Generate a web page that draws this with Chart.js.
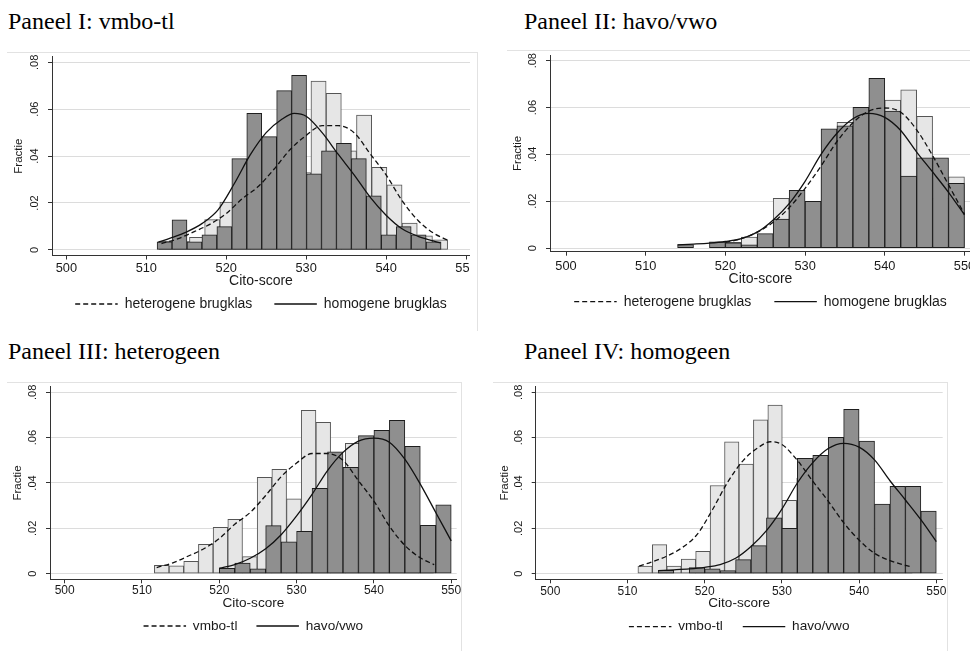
<!DOCTYPE html>
<html>
<head>
<meta charset="utf-8">
<script src="https://cdn.jsdelivr.net/npm/chart.js@4.4.1/dist/chart.umd.min.js"></script>
<style>
  html, body { margin: 0; padding: 0; background: #fff; }
  body { width: 970px; height: 651px; position: relative; overflow: hidden; }
  .title { position: absolute; font-family: "Liberation Serif", "Times New Roman", serif; font-size: 24px; line-height: 24px; color: #000; white-space: nowrap; }
  .panel { position: absolute; overflow: hidden; }
  .frame { position: absolute; border-top: 1px solid #e2e2e2; border-right: 1px solid #e2e2e2; }
  canvas { display: block; }
</style>
</head>
<body>
<div class="frame" style="left:7px; top:52px; width:470px; height:278px;"></div>
<div class="frame" style="left:507px; top:50px; width:470px; height:280px;"></div>
<div class="frame" style="left:7px; top:382px; width:454px; height:280px;"></div>
<div class="frame" style="left:493px; top:382px; width:454px; height:280px;"></div>

<div class="title" style="left:8px; top:9px;">Paneel I: vmbo-tl</div>
<div class="title" style="left:524px; top:9px;">Paneel II: havo/vwo</div>
<div class="title" style="left:8px; top:339px;">Paneel III: heterogeen</div>
<div class="title" style="left:524px; top:339px;">Paneel IV: homogeen</div>

<div class="panel" id="p1"></div>
<div class="panel" id="p2"></div>
<div class="panel" id="p3"></div>
<div class="panel" id="p4"></div>

<script>
const xTicks = [500, 510, 520, 530, 540, 550];
const yTicks = [0, 0.02, 0.04, 0.06, 0.08];
const yTickLabels = ["0", ".02", ".04", ".06", ".08"];

// histograms: first bin edge, bin width, fraction per bin
const vmboHetStart = 511.6;
const vmboHetWidth = 1.9;
const vmboHetFrac = [0.0037, 0.0035, 0.0054, 0.0129, 0.0204, 0.024, 0.0075, 0.0425, 0.046, 0.033,
  0.072, 0.0668, 0.0423, 0.0575, 0.0352, 0.0277, 0.0114, 0.006, 0.0043];

const vmboHomStart = 511.35;
const vmboHomWidth = 1.87;
const vmboHomFrac = [0.0034, 0.0128, 0.0034, 0.0064, 0.0099, 0.0389, 0.0582, 0.0483, 0.0679, 0.0744,
  0.0324, 0.0422, 0.0455, 0.0389, 0.023, 0.0064, 0.0099, 0.0064, 0.0034];

const havoHetStart = 520;
const havoHetWidth = 2;
const havoHetFrac = [0.0024, 0.0047, 0.0022, 0.0212, 0.014, 0.0187, 0.0376, 0.0537, 0.0469, 0.0609,
  0.0632, 0.0676, 0.0562, 0.0213, 0.0304];

const havoHomStart = 514;
const havoHomWidth = 2;
const havoHomFrac = [0.0015, 0, 0.0027, 0.0022, 0.0014, 0.0062, 0.0124, 0.0246, 0.02, 0.0509,
  0.0522, 0.0601, 0.0725, 0.0585, 0.0307, 0.0385, 0.0385, 0.0276];

// normal curves
const vmboHetCurveX = [511.9, 514, 516, 518, 520, 522, 524, 526, 528, 530, 532, 534, 536, 538, 540, 542, 544, 546, 547.8];
const vmboHetCurveY = [0.0027, 0.0048, 0.0078, 0.011, 0.0155, 0.0218, 0.027, 0.0345, 0.0428, 0.0488,
  0.053, 0.053, 0.05, 0.041, 0.032, 0.021, 0.0125, 0.007, 0.004];

const vmboHomCurveX = [511.5, 513, 515, 517, 519, 521, 523, 525, 527, 528.5, 530, 532, 534, 536, 538, 540, 542, 544, 546.8];
const vmboHomCurveY = [0.0033, 0.005, 0.0076, 0.0113, 0.0172, 0.0282, 0.0405, 0.05, 0.0558, 0.0582,
  0.057, 0.05, 0.0408, 0.032, 0.0225, 0.0148, 0.009, 0.0058, 0.003];

const havoHetCurveX = [520, 522, 524, 526, 528, 530, 532, 534, 536, 538, 540, 542, 544, 546, 548, 550];
const havoHetCurveY = [0.0024, 0.004, 0.0068, 0.011, 0.0172, 0.0255, 0.035, 0.0455, 0.0535, 0.0585,
  0.0598, 0.058, 0.0505, 0.0395, 0.027, 0.0145];

const havoHomCurveX = [514, 516, 518, 520, 522, 524, 526, 528, 530, 532, 534, 536, 538, 540, 542, 544, 546, 548, 550];
const havoHomCurveY = [0.0014, 0.0017, 0.0021, 0.0028, 0.004, 0.0068, 0.012, 0.019, 0.0285, 0.04,
  0.049, 0.0552, 0.0575, 0.0558, 0.0502, 0.041, 0.0325, 0.0238, 0.0142];

function histogram(start, width, fracs) {
  return fracs.map((f, i) => ({ x: start + width * (i + 0.5), y: f }));
}

function curve(xs, ys) {
  return xs.map((x, i) => ({ x: x, y: ys[i] }));
}

const vmboHet = histogram(vmboHetStart, vmboHetWidth, vmboHetFrac);
const vmboHom = histogram(vmboHomStart, vmboHomWidth, vmboHomFrac);
const havoHet = histogram(havoHetStart, havoHetWidth, havoHetFrac);
const havoHom = histogram(havoHomStart, havoHomWidth, havoHomFrac);

const vmboHetCurve = curve(vmboHetCurveX, vmboHetCurveY);
const vmboHomCurve = curve(vmboHomCurveX, vmboHomCurveY);
const havoHetCurve = curve(havoHetCurveX, havoHetCurveY);
const havoHomCurve = curve(havoHomCurveX, havoHomCurveY);

const FONT = '"Liberation Sans", Arial, sans-serif';
const INK = "#1a1a1a";

// legend sample is a zero-height box: its width keeps the dash pattern
// of the return stroke on top of the first one
const LEGEND_BOX = 42.5;

const panels = [
  {
    id: "p1", light: vmboHet, dark: vmboHom, dashed: vmboHetCurve, solid: vmboHomCurve,
    labels: ["heterogene brugklas", "homogene brugklas"],
    left: 0, top: 40, width: 500, clip: 470,
    area: { left: 52, top: 56.7, right: 470, bottom: 255.5 },
    xRange: [498.2, 550.5], yRange: [-0.0024, 0.0824],
    yTickX: 35, yTitleX: 19.3, xTickY: 268.5, xTitleY: 280.7, legendY: 304,
    tickFont: 12.8, textFont: 14, yFont: 11, legendPad: 22
  },
  {
    id: "p2", light: havoHet, dark: havoHom, dashed: havoHetCurve, solid: havoHomCurve,
    labels: ["heterogene brugklas", "homogene brugklas"],
    left: 498, top: 40, width: 492,
    area: { left: 550, top: 55, right: 971, bottom: 251.7 },
    xRange: [497.99, 550.82], yRange: [-0.00155, 0.08243],
    yTickX: 533, yTitleX: 518, xTickY: 266.7, xTitleY: 279.3, legendY: 301.7,
    tickFont: 12.8, textFont: 14, yFont: 11, legendPad: 23
  },
  {
    id: "p3", light: vmboHet, dark: havoHet, dashed: vmboHetCurve, solid: havoHetCurve,
    labels: ["vmbo-tl", "havo/vwo"],
    left: 0, top: 370, width: 480, clip: 461,
    area: { left: 50, top: 386.7, right: 456.7, bottom: 579.3 },
    xRange: [498.1, 550.71], yRange: [-0.00247, 0.08247],
    yTickX: 33.3, yTitleX: 18.3, xTickY: 591, xTitleY: 603.3, legendY: 626,
    tickFont: 12, textFont: 13.6, yFont: 11, legendPad: 19
  },
  {
    id: "p4", light: vmboHom, dark: havoHom, dashed: vmboHomCurve, solid: havoHomCurve,
    labels: ["vmbo-tl", "havo/vwo"],
    left: 484, top: 370, width: 480, clip: 463,
    area: { left: 535.7, top: 386.7, right: 942.7, bottom: 579.3 },
    xRange: [498.11, 550.83], yRange: [-0.00247, 0.08247],
    yTickX: 519.3, yTitleX: 505, xTickY: 591.7, xTitleY: 603.3, legendY: 626.7,
    tickFont: 12, textFont: 13.6, yFont: 11, legendPad: 20
  }
];

const measure = document.createElement("canvas").getContext("2d");
function textWidth(text, size) {
  measure.font = size + "px " + FONT;
  return measure.measureText(text).width;
}

function drawPanel(p) {
  const tickLen = 4;
  const legendTop = p.legendY - p.legendPad - p.textFont / 2;
  const legendHeight = p.textFont + p.legendPad + 10;
  const bottomEdge = legendTop + legendHeight - p.top;
  const height = Math.ceil(bottomEdge);

  const wrap = document.getElementById(p.id);
  wrap.style.left = p.left + "px";
  wrap.style.top = p.top + "px";
  wrap.style.width = (p.clip ? p.clip - p.left : p.width) + "px";
  wrap.style.height = height + "px";
  const canvas = document.createElement("canvas");
  canvas.width = p.width;
  canvas.height = height;
  wrap.appendChild(canvas);

  const widest = Math.max(...yTickLabels.map(t => textWidth(t, p.yFont)));
  const hiddenX = { type: "linear", display: false, min: p.xRange[0], max: p.xRange[1], offset: false, grid: { offset: false } };

  const lineStyle = {
    type: "line", xAxisID: "x", borderColor: "#111", backgroundColor: "transparent",
    borderWidth: 1.3, pointRadius: 0, cubicInterpolationMode: "monotone", order: 0
  };
  const barStyle = {
    type: "bar", borderWidth: 1, borderSkipped: false, grouped: false,
    barPercentage: 1, categoryPercentage: 1
  };

  new Chart(canvas, {
    type: "bar",
    data: {
      datasets: [
        { ...lineStyle, label: p.labels[0], data: p.dashed, borderDash: [5, 3] },
        { ...lineStyle, label: p.labels[1], data: p.solid },
        { ...barStyle, label: "dark", data: p.dark, xAxisID: "xd", backgroundColor: "#8f8f8f", borderColor: "#1e1e1e", order: 1 },
        { ...barStyle, label: "light", data: p.light, xAxisID: "xl", backgroundColor: "#e6e6e6", borderColor: "#555", order: 2 }
      ]
    },
    options: {
      responsive: false,
      animation: false,
      devicePixelRatio: 1,
      events: [],
      layout: {
        padding: {
          left: 0,
          top: p.area.top - p.top,
          right: p.width - (p.area.right - p.left),
          bottom: height - bottomEdge
        }
      },
      plugins: {
        tooltip: { enabled: false },
        legend: {
          position: "bottom",
          fullSize: false,
          labels: {
            boxWidth: LEGEND_BOX,
            boxHeight: 0,
            padding: p.legendPad,
            color: INK,
            font: { family: FONT, size: p.textFont },
            filter: item => item.datasetIndex < 2
          }
        }
      },
      scales: {
        x: {
          type: "linear",
          position: "bottom",
          min: p.xRange[0],
          max: p.xRange[1],
          offset: false,
          afterBuildTicks: s => { s.ticks = xTicks.map(v => ({ value: v })); },
          afterFit: s => { s.height = legendTop - p.area.bottom; },
          ticks: {
            autoSkip: false, maxRotation: 0, minRotation: 0,
            padding: p.xTickY - p.area.bottom - tickLen - 0.6 * p.tickFont,
            color: INK, font: { family: FONT, size: p.tickFont },
            callback: v => String(v)
          },
          grid: { offset: false, drawOnChartArea: false, drawTicks: true, tickLength: tickLen, tickColor: "#333" },
          border: { display: true, color: "#333", width: 1 },
          title: {
            display: true, text: "Cito-score", color: INK,
            font: { family: FONT, size: p.textFont },
            padding: { top: 0, bottom: legendTop - p.xTitleY - 0.6 * p.textFont }
          }
        },
        xl: hiddenX,
        xd: { ...hiddenX },
        y: {
          position: "left",
          min: p.yRange[0],
          max: p.yRange[1],
          afterBuildTicks: s => { s.ticks = yTicks.map(v => ({ value: v })); },
          afterFit: s => { s.width = p.area.left - p.left; },
          ticks: {
            minRotation: 90, maxRotation: 90, crossAlign: "center",
            padding: p.area.left - p.yTickX - tickLen - widest / 2,
            color: INK, font: { family: FONT, size: p.yFont },
            callback: (v, i) => yTickLabels[i]
          },
          grid: { color: "#dcdcdc", lineWidth: 1, drawTicks: true, tickLength: tickLen, tickColor: "#333" },
          border: { display: true, color: "#333", width: 1 },
          title: {
            display: true, text: "Fractie", color: INK,
            font: { family: FONT, size: 11.5 },
            padding: { top: p.yTitleX - p.left - 0.6 * 11.5, bottom: 0 }
          }
        }
      }
    }
  });
}

panels.forEach(drawPanel);
</script>
</body>
</html>
